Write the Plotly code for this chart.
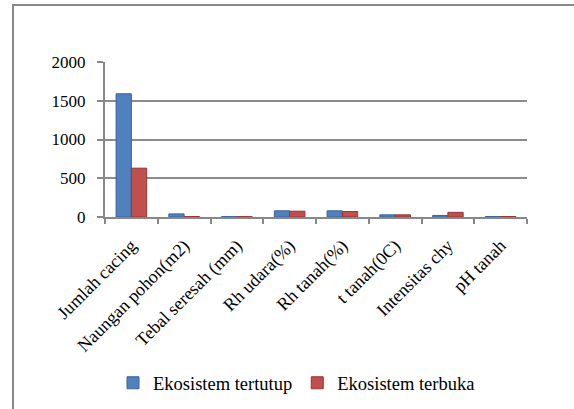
import plotly.graph_objects as go

categories = ["Jumlah cacing", "Naungan pohon(m2)", "Tebal seresah (mm)", "Rh udara(%)",
              "Rh tanah(%)", "t tanah(0C)", "Intensitas chy", "pH tanah"]
tertutup = [1590, 40, 5, 80, 80, 28, 20, 6]
terbuka = [630, 6, 5, 75, 70, 28, 60, 6]
y_ticks = [0, 500, 1000, 1500, 2000]

font = "Liberation Serif, Times New Roman, serif"

fig = go.Figure()
fig.add_trace(go.Bar(name="Ekosistem tertutup", x=categories, y=tertutup,
                     marker=dict(color="#4F81BD", line=dict(color="#3A6599", width=1))))
fig.add_trace(go.Bar(name="Ekosistem terbuka", x=categories, y=terbuka,
                     marker=dict(color="#C0504D", line=dict(color="#943634", width=1))))

fig.update_layout(
    width=574, height=409,
    margin=dict(l=105, r=47, t=62, b=192),
    paper_bgcolor="white", plot_bgcolor="white",
    barmode="group", bargap=0.42, bargroupgap=0,
    font=dict(family=font, size=17, color="black"),
    showlegend=True,
    legend=dict(orientation="h", x=113 / 574, xref="container", xanchor="left",
                y=0.063, yref="container", yanchor="middle",
                font=dict(family=font, size=18.5), tracegroupgap=0),
    xaxis=dict(showline=True, linecolor="#888888", linewidth=2, ticks="outside",
               tickson="boundaries", ticklen=5, tickcolor="#888888", tickwidth=2,
               tickangle=-45, tickfont=dict(family=font, size=18), showgrid=False,
               ticklabelstandoff=9, automargin=False),
    yaxis=dict(range=[0, 2000], tickvals=y_ticks, showline=True, linecolor="#888888",
               linewidth=2, ticks="outside", ticklen=6, tickcolor="#888888", tickwidth=2,
               showgrid=True, gridcolor="#8C8C8C", gridwidth=2, zeroline=False,
               tickfont=dict(family=font, size=17), ticklabelstandoff=8, automargin=False),
    shapes=[dict(type="rect", xref="paper", yref="paper", x0=-0.218, x1=1.3,
                 y0=-2.0, y1=1.368, line=dict(color="#888888", width=2), layer="below")],
)

fig.write_html("out.html", config={"displayModeBar": False},
               post_script="document.body.style.margin='0';")
